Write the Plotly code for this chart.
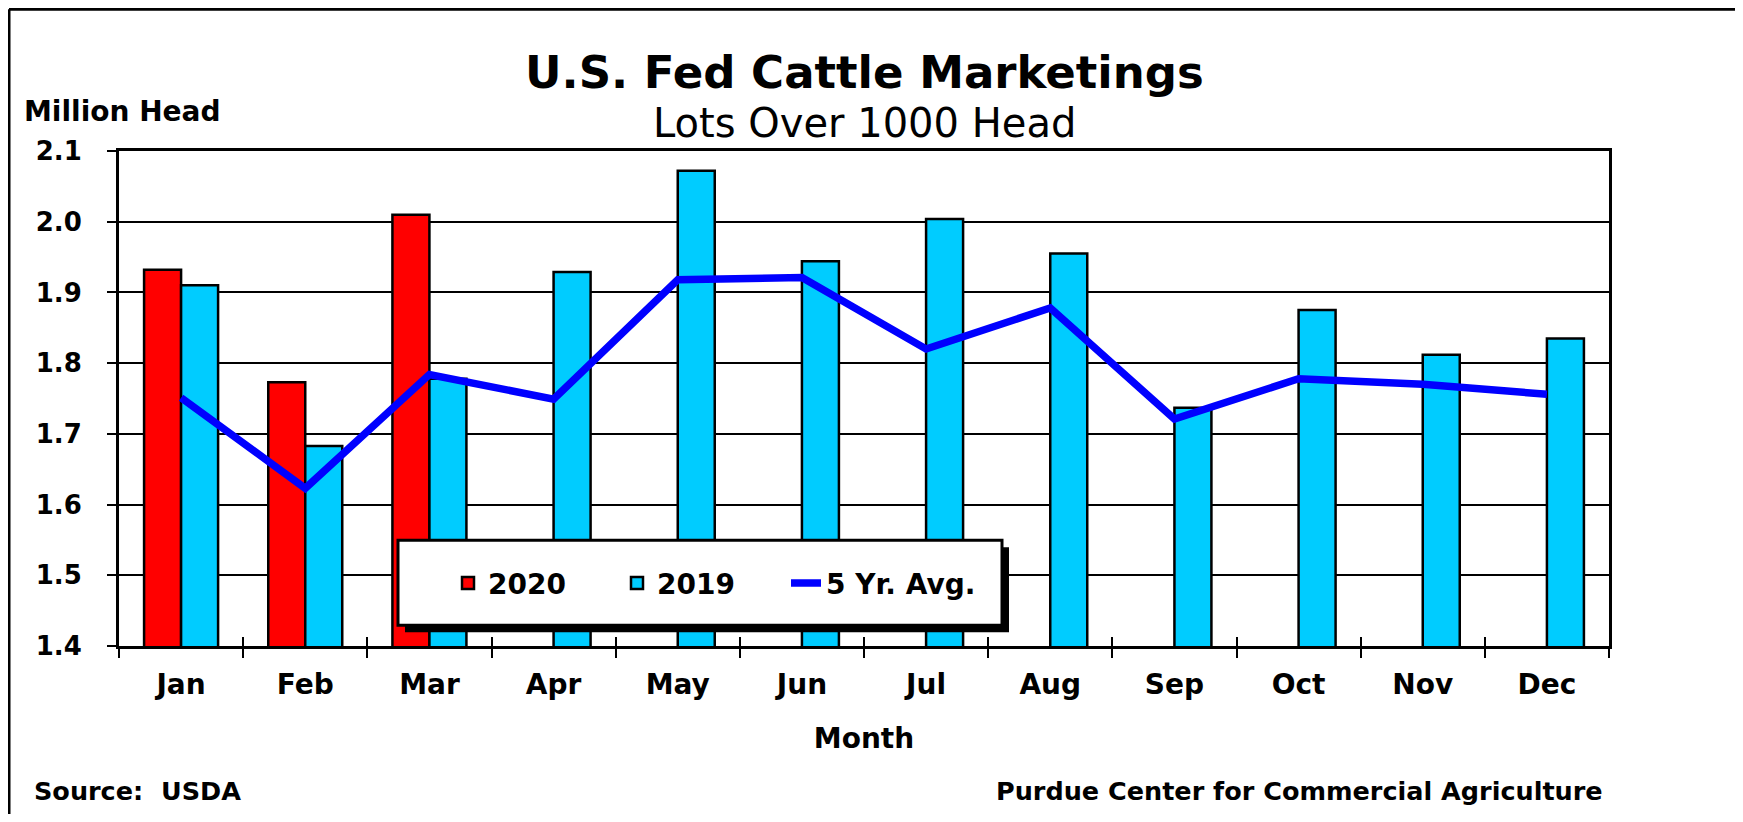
import plotly.graph_objects as go

months = ['Jan', 'Feb', 'Mar', 'Apr', 'May', 'Jun', 'Jul', 'Aug', 'Sep', 'Oct', 'Nov', 'Dec']
y2020 = [1.932, 1.773, 2.010, None, None, None, None, None, None, None, None, None]
y2019 = [1.910, 1.683, 1.778, 1.929, 2.072, 1.944, 2.004, 1.955, 1.737, 1.875, 1.812, 1.835]
avg5 = [1.751, 1.623, 1.784, 1.749, 1.918, 1.921, 1.820, 1.878, 1.721, 1.778, 1.770, 1.756]
y_ticks = [1.4, 1.5, 1.6, 1.7, 1.8, 1.9, 2.0, 2.1]

FONT = 'DejaVu Sans'
LEG_FONT = dict(family=FONT, size=28, weight=700, color='black')

# page has an 8px body margin, so figure is 16px smaller than the window
W, H, OFF = 1727, 806, 8
# plot area in page px: x 119..1609, y 150.7..645.7
PL, PR, PT, PB = 119, 1609, 150.7, 645.7


def px_x(p):
    return (p - PL) / (PR - PL)


def px_y(p):
    return (PB - p) / (PB - PT)


fig = go.Figure()
fig.add_trace(go.Bar(x=months, y=y2020, name='2020', legend='legend',
                     marker=dict(color='#FF0000', line=dict(color='black', width=2.5))))
fig.add_trace(go.Bar(x=months, y=y2019, name='2019', legend='legend2',
                     marker=dict(color='#00CCFF', line=dict(color='black', width=2.5))))
fig.add_trace(go.Scatter(x=months, y=avg5, name='5 Yr. Avg.', mode='lines', xaxis='x2',
                         legend='legend3', line=dict(color='#0000FF', width=7.5)))

leg_common = dict(orientation='h', yanchor='middle', xanchor='left', y=px_y(583),
                  bgcolor='rgba(0,0,0,0)', borderwidth=0, font=LEG_FONT)

fig.update_layout(
    width=W, height=H,
    margin=dict(l=PL - OFF, r=W - (PR - OFF), t=PT - OFF, b=H - (PB - OFF)),
    paper_bgcolor='white', plot_bgcolor='white',
    barmode='group', bargap=0.404, bargroupgap=0,
    font=dict(family=FONT, color='black'),
    showlegend=True,
    legend=dict(x=px_x(490 - 42), **leg_common),
    legend2=dict(x=px_x(659 - 42), **leg_common),
    legend3=dict(x=px_x(828 - 42), **leg_common),
)

fig.update_layout(
    xaxis=dict(
        type='category', categoryorder='array', categoryarray=months, range=[-0.5, 11.5],
        showline=True, linecolor='black', linewidth=3, mirror=True,
        ticks='outside', ticklen=9, tickwidth=2, tickcolor='black', tickson='boundaries',
        ticklabelstandoff=11,
        tickfont=dict(family=FONT, size=28, weight=700, color='black'),
        showgrid=False,
        title=dict(text='Month', font=dict(family=FONT, size=28, weight=700, color='black'),
                   standoff=29),
    ),
    # overlay axis only to draw the upper half of the crossing tick marks
    xaxis2=dict(
        type='category', categoryorder='array', categoryarray=months, range=[-0.5, 11.5],
        overlaying='x', side='bottom', anchor='y',
        ticks='inside', ticklen=9, tickwidth=2, tickcolor='black', tickson='boundaries',
        showticklabels=False, showgrid=False, showline=False,
    ),
    yaxis=dict(
        range=[1.4, 2.1], tickvals=y_ticks, tickformat='.1f',
        showline=True, linecolor='black', linewidth=3, mirror=True,
        ticks='outside', ticklen=9, tickwidth=2, tickcolor='black',
        ticklabelstandoff=20,
        tickfont=dict(family=FONT, size=26, weight=700, color='black'),
        showgrid=True, gridcolor='black', gridwidth=2, zeroline=False,
    ),
)

# legend box with drop shadow, drawn above bars
fig.add_shape(type='rect', xref='paper', yref='paper', layer='above',
              x0=px_x(405), x1=px_x(1009), y0=px_y(632), y1=px_y(547),
              fillcolor='black', line=dict(color='black', width=0))
fig.add_shape(type='rect', xref='paper', yref='paper', layer='above',
              x0=px_x(398), x1=px_x(1002), y0=px_y(625), y1=px_y(540),
              fillcolor='white', line=dict(color='black', width=3))

# outer frame (left and top edges)
fig.add_shape(type='line', xref='paper', yref='paper', x0=px_x(OFF + 1), x1=px_x(OFF + 1),
              y0=px_y(OFF + 1), y1=px_y(900), line=dict(color='black', width=3))
fig.add_shape(type='line', xref='paper', yref='paper', x0=px_x(OFF + 1), x1=px_x(1800),
              y0=px_y(OFF + 1), y1=px_y(OFF + 1), line=dict(color='black', width=3))

annots = [
    dict(text='U.S. Fed Cattle Marketings', x=0.5, y=px_y(72), xanchor='center', yanchor='middle',
         font=dict(size=45, weight=700)),
    dict(text='Lots Over 1000 Head', x=0.5, y=px_y(123), xanchor='center', yanchor='middle',
         font=dict(size=40)),
    dict(text='Million Head', x=px_x(22), y=px_y(111), xanchor='left', yanchor='middle',
         font=dict(size=28, weight=700)),
    dict(text='Source:  USDA', x=px_x(32), y=px_y(791), xanchor='left', yanchor='middle',
         font=dict(size=25.5, weight=700)),
    dict(text='Purdue Center for Commercial Agriculture', x=px_x(1605), y=px_y(791),
         xanchor='right', yanchor='middle', font=dict(size=25.5, weight=700)),
]
for a in annots:
    a['font'] = dict(family=FONT, color='black', **a['font'])
    fig.add_annotation(xref='paper', yref='paper', showarrow=False, **a)

fig.write_html('out.html')
